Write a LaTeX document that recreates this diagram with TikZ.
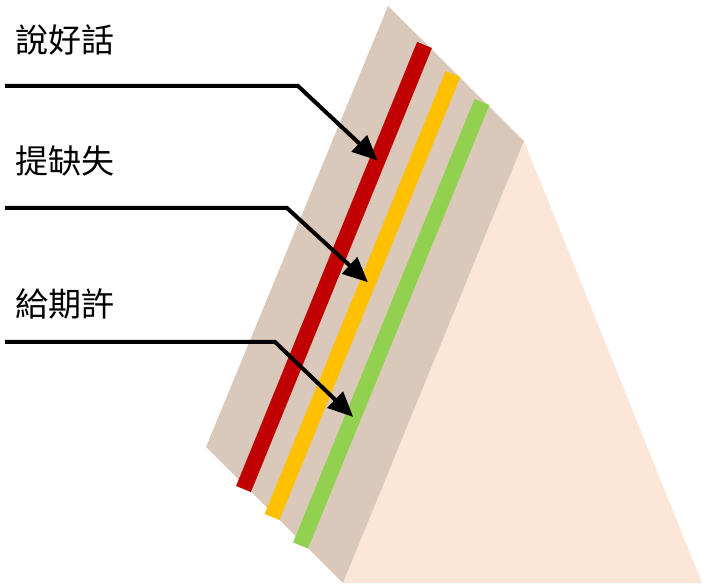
\documentclass[tikz,border=0pt]{standalone}
\usepackage{fontspec}
\usepackage{xcolor}
\usepackage{tikz}
\usetikzlibrary{arrows.meta}
\newfontfamily\cjk{Noto Sans CJK TC}
\definecolor{crust}{HTML}{DAC8BA}
\definecolor{cake}{HTML}{FBE6D7}
\definecolor{jamred}{HTML}{C00000}
\definecolor{cream}{HTML}{FFC000}
\definecolor{mint}{HTML}{92D050}

\begin{document}
\begin{tikzpicture}[x=1pt,y=-1pt,
  layer/.style={line width=16pt},
  pointer/.style={line width=4pt,-{Triangle[length=25pt,width=22pt]}},
  tag/.style={anchor=west,inner sep=0pt,font=\cjk\fontsize{33}{33}\selectfont}]
  \useasboundingbox (0,0) rectangle (702,585);
  % sandwich slice
  \fill[cake] (524,141) -- (702,583) -- (343,583) -- cycle;
  \fill[crust] (388,6) -- (524,141) -- (343,583) -- (206,447) -- cycle;
  \draw[layer,jamred] (424.5,45) -- coordinate[pos=0.26] (redpt) (243.5,489);
  \draw[layer,cream] (453,74) -- coordinate[pos=0.47] (yellowpt) (272,517);
  \draw[layer,mint] (482,102) -- coordinate[pos=0.71] (greenpt) (300.5,545.5);
  % labels and pointers
  \node[tag] (praise) at (15,40) {說好話};
  \node[tag] (fault) at (15,161) {提缺失};
  \node[tag] (hope) at (15,304) {給期許};
  \coordinate (praise-in) at (5,86);
  \coordinate (fault-in) at (5,208);
  \coordinate (hope-in) at (5,342);
  \draw[pointer] (praise-in) -- (298,86) -- (redpt);
  \draw[pointer] (fault-in) -- (287,208) -- (yellowpt);
  \draw[pointer] (hope-in) -- (275,342) -- (greenpt);
\end{tikzpicture}
\end{document}
